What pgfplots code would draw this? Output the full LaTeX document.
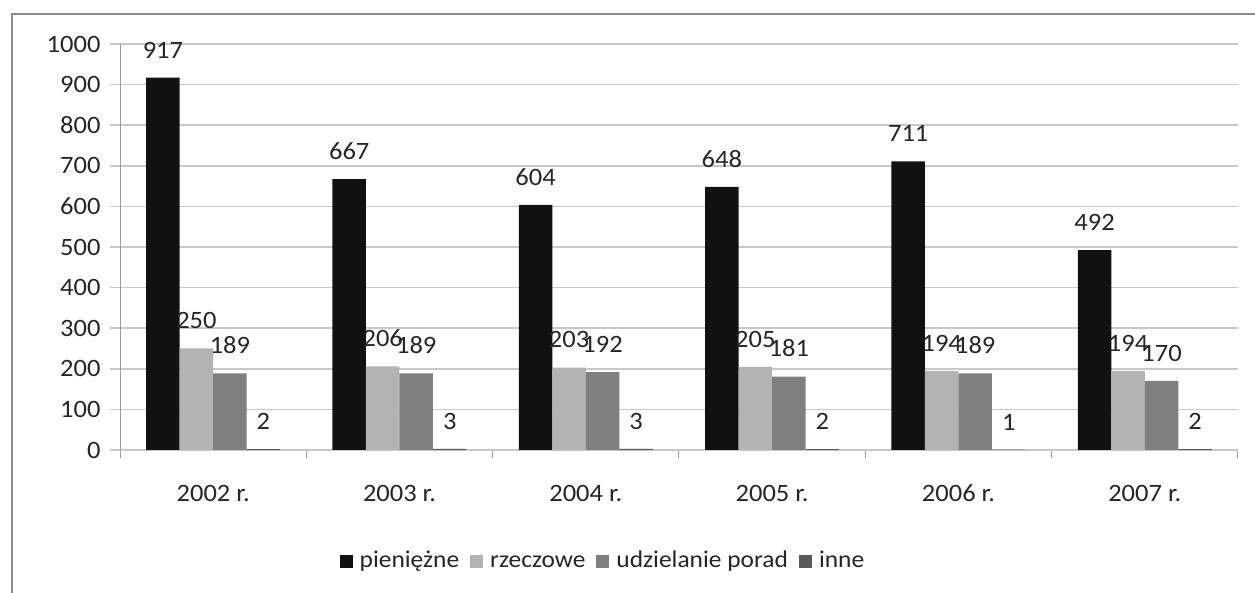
\documentclass[border=0pt]{standalone}
\usepackage{fontspec}
\setmainfont[FakeStretch=1.06]{Carlito}
\usepackage{pgfplots}
\pgfplotsset{compat=1.18}
\definecolor{c1}{HTML}{111111}
\definecolor{c2}{HTML}{B3B3B3}
\definecolor{c3}{HTML}{808080}
\definecolor{c4}{HTML}{595959}
\definecolor{gridc}{HTML}{C8C8C8}
\definecolor{axc}{HTML}{9A9A9A}
\definecolor{framec}{HTML}{8A8A8A}
\begin{document}
\begin{tikzpicture}
\begin{axis}[
  at={(120pt,143pt)}, anchor=south west,
  scale only axis, width=1118pt, height=406pt,
  ymin=0, ymax=1000, xmin=-0.5, xmax=5.5,
  ybar=0pt, bar width=33.5pt,
  axis lines*=left,
  x axis line style={-, gridc, line width=1.6pt},
  y axis line style={-, axc, line width=1pt},
  ytick={0,100,...,1000},
  ymajorgrids, major grid style={gridc, line width=1.6pt},
  tick align=outside, major tick length=10pt, minor tick length=8pt,
  every major y tick/.append style={gridc, line width=1.6pt},
  xtick={0,...,5},
  xticklabels={2002 r.,2003 r.,2004 r.,2005 r.,2006 r.,2007 r.},
  every major x tick/.append style={draw=none},
  minor xtick={-0.5,0.5,...,5.5},
  every minor x tick/.append style={axc, line width=1pt},
  /pgf/number format/assume math mode=true,
  /pgf/number format/1000 sep={},
  tick label style={font=\fontsize{25}{30}\selectfont, text=black!85},
  yticklabel style={xshift=-6pt},
  xticklabel style={yshift=-21pt, text height=17pt, text depth=5pt},
  nodes near coords,
  every node near coord/.append style={font=\fontsize{25}{30}\selectfont, text=black!85, yshift=16pt},
  legend columns=4,
  legend style={at={(0.432,-0.276)}, anchor=center, draw=none, font=\fontsize{24}{29}\selectfont,
    nodes={text height=17pt, text depth=6pt, text=black!85},
    /tikz/every odd column/.append style={column sep=5pt},
    /tikz/every even column/.append style={column sep=9pt}},
  legend image code/.code={\draw[#1,draw=none] (0pt,-6pt) rectangle (13pt,7pt);},
]
\addplot[fill=c1, draw=none] coordinates {(0,917) (1,667) (2,604) (3,648) (4,711) (5,492)};
\addplot[fill=c2, draw=none] coordinates {(0,250) (1,206) (2,203) (3,205) (4,194) (5,194)};
\addplot[fill=c3, draw=none] coordinates {(0,189) (1,189) (2,192) (3,181) (4,189) (5,170)};
\addplot[fill=c4, draw=none] coordinates {(0,2) (1,3) (2,3) (3,2) (4,1) (5,2)};
\legend{pieniężne, rzeczowe, udzielanie porad, inne}
\end{axis}
\draw[framec, line width=2pt] (12pt,0pt) -- (12pt,579pt) -- (1256pt,579pt);
\pgfresetboundingbox
\path[use as bounding box] (0pt,0pt) rectangle (1255pt,593pt);
\end{tikzpicture}
\end{document}
